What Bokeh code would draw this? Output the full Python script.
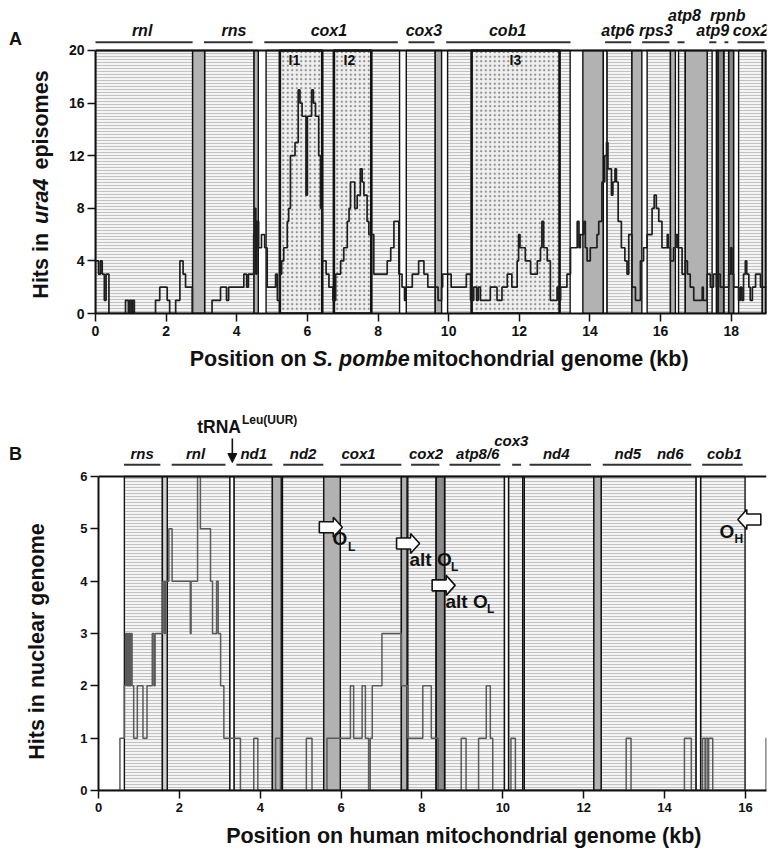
import math
from bokeh.plotting import figure
from bokeh.models import Range1d, Label, FixedTicker, Arrow, NormalHead
from bokeh.layouts import column, row
from bokeh.embed import file_html
from bokeh.resources import INLINE
from bokeh.core.properties import value

FONT = "Liberation Sans"

# ---------------- Panel A data (S. pombe) ----------------
A_hit_kb = [0.00, 0.085, 0.14, 0.19, 0.25, 0.30, 0.38, 0.85, 0.93, 0.97, 1.02, 1.05, 1.10, 1.70, 1.82,
            2.03, 2.10, 2.27, 2.39, 2.48, 2.55, 2.74, 3.30, 3.54, 3.71, 3.77, 4.20, 4.28, 4.33, 4.48,
            4.52, 4.54, 4.57, 4.62, 4.70, 4.79, 4.86, 5.10, 5.15, 5.22, 5.27, 5.33, 5.43, 5.47, 5.52,
            5.65, 5.74, 5.79, 5.85, 5.96, 6.00, 6.04, 6.12, 6.17, 6.23, 6.32, 6.37, 6.42, 6.53, 6.61,
            6.72, 6.80, 6.94, 7.03, 7.13, 7.18, 7.22, 7.34, 7.41, 7.50, 7.55, 7.60, 7.69, 7.74, 7.88,
            8.26, 8.36, 8.45, 8.59, 8.68, 8.75, 8.78, 8.97, 9.15, 9.30, 9.41, 9.70, 9.80, 9.83, 10.07,
            10.50, 10.62, 10.71, 10.79, 10.84, 10.90, 11.18, 11.37, 11.51, 11.66, 11.79, 11.94, 11.98,
            12.02, 12.17, 12.32, 12.51, 12.60, 12.64, 12.69, 12.79, 12.88, 13.07, 13.11, 13.17, 13.35,
            13.45, 13.64, 13.69, 13.73, 13.82, 13.87, 13.92, 14.01, 14.20, 14.25, 14.34, 14.42, 14.47,
            14.51, 14.61, 14.65, 14.71, 14.75, 14.80, 14.89, 14.99, 15.05, 15.10, 15.19, 15.29, 15.43,
            15.52, 15.62, 15.76, 15.82, 15.88, 15.95, 16.04, 16.19, 16.22, 16.28, 16.37, 16.43, 16.48,
            16.61, 16.70, 16.76, 16.84, 16.94, 17.18, 17.21, 17.32, 17.41, 17.50, 17.58, 17.63, 17.69,
            17.93, 17.98, 18.02, 18.07, 18.21, 18.26, 18.30, 18.35, 18.40, 18.44, 18.50, 18.54, 18.60,
            18.69, 18.83, 19.00]
A_hit_n = [4, 3, 4, 3, 1, 3, 0, 1, 0, 1, 0, 1, 0, 1, 2,
           1, 0, 1, 4, 3, 2, 0, 1, 2, 1, 2, 3, 2, 3, 6,
           8, 3, 7, 5, 6, 5, 2, 3, 1, 3, 4, 5, 7, 8, 12,
           13, 17, 16, 15, 9, 15, 15, 17, 16, 15, 12, 8, 4, 3, 2,
           1, 3, 4, 5, 7, 8, 10, 8, 9, 11, 10, 9, 7, 6, 3,
           4, 5, 7, 3, 2, 1, 2, 3, 4, 3, 2, 1, 2, 3, 2,
           3, 1, 2, 1, 2, 1, 2, 1, 2, 3, 2, 4, 6,
           5, 4, 3, 4, 5, 7, 5, 4, 1, 2, 1, 2, 3,
           5, 7, 5, 6, 7, 5, 4, 5, 6, 7, 10, 12, 13,
           11, 9, 10, 11, 10, 7, 5, 4, 3, 6, 2, 1, 4,
           5, 6, 8, 9, 8, 7, 5, 6, 5, 4, 5, 6, 5,
           3, 4, 3, 2, 1, 2, 1, 3, 2, 3, 2, 3, 2,
           3, 5, 3, 2, 1, 2, 1, 3, 4, 3, 2, 1, 2,
           3, 2, 2]

A_reg_start = [0.00, 2.75, 3.09, 4.49, 4.83, 5.22, 6.42, 6.75, 7.81, 8.80, 9.62, 9.97, 10.65, 13.14,
               13.80, 14.38, 14.48, 15.19, 15.62, 16.28, 16.51, 16.70, 17.32, 17.58, 17.63, 17.79,
               17.93, 18.21, 18.88]
A_reg_end = [2.75, 3.09, 4.49, 4.61, 5.22, 6.42, 6.75, 7.81, 8.61, 9.62, 9.80, 10.65, 13.14, 13.44,
             14.38, 14.48, 15.19, 15.47, 16.28, 16.42, 16.70, 17.32, 17.46, 17.63, 17.79, 17.93,
             18.07, 18.88, 19.00]
A_reg_kind = ["s", "g", "s", "g", "s", "i", "s", "i", "s", "s", "g", "s", "i", "s",
              "g", "w", "s", "g", "s", "g", "s", "g", "s", "s", "d", "s",
              "d", "s", "g"]

A_gene_name = ["rnl", "rns", "cox1", "cox3", "cob1", "atp6", "rps3", "atp8", "atp9", "rpnb", "cox2"]
A_gene_start = [-0.05, 3.07, 4.78, 8.86, 9.93, 14.43, 15.48, 16.48, 17.38, 17.81, 18.18]
A_gene_end = [2.75, 4.45, 8.56, 9.60, 13.45, 15.17, 16.25, 16.68, 17.58, 17.92, 18.94]
A_gene_label_kb = [1.32, 3.92, 6.61, 9.30, 11.67, 14.79, 15.87, 16.68, 17.48, 17.90, 18.56]
A_gene_row = [0, 0, 0, 0, 0, 0, 0, 1, 0, 1, 0]
A_intron_name = ["I1", "I2", "I3"]
A_intron_kb = [5.63, 7.19, 11.89]
A_xticks = [0, 2, 4, 6, 8, 10, 12, 14, 16, 18]
A_yticks = [0, 4, 8, 12, 16, 20]

# ---------------- Panel B data (human) ----------------
B_hit_kb = [0.00, 0.53, 0.64, 0.67, 0.70, 0.72, 0.74, 0.76, 0.78, 0.80, 0.83, 0.87, 0.96, 1.10, 1.20,
            1.33, 1.37, 1.40, 1.59, 1.63, 1.66, 1.74, 1.82, 2.27, 2.29, 2.45, 2.52, 2.77, 2.82, 2.92,
            2.96, 3.02, 3.10, 3.51, 3.84, 3.94, 4.38, 4.50, 5.14, 5.28, 5.65, 6.23, 6.31, 6.52, 6.60,
            6.68, 6.72, 6.77, 7.01, 7.49, 7.65, 8.02, 8.23, 8.40, 8.97, 9.09, 9.40, 9.59, 9.69, 9.75,
            10.20, 10.31, 13.05, 13.17, 14.49, 14.66, 14.94, 15.00, 15.02, 15.07, 15.09, 15.19, 16.51,
            16.52]
B_hit_n = [0, 1, 2, 3, 2, 3, 2, 3, 2, 3, 2, 1, 2, 1, 2,
           3, 2, 3, 4, 3, 4, 5, 4, 3, 4, 6, 5, 4, 3, 4,
           3, 2, 1, 0, 1, 0, 1, 0, 1, 0, 1, 2, 1, 2, 1,
           0, 1, 2, 3, 2, 1, 2, 1, 0, 1, 0, 1, 2, 1, 0,
           1, 0, 1, 0, 1, 0, 1, 0, 1, 0, 1, 0, 1,
           1]

B_reg_start = [0.64, 1.58, 1.70, 3.25, 3.35, 4.30, 4.55, 5.57, 5.98, 7.49, 7.65, 8.35, 8.56, 10.04,
               10.14, 10.49, 10.53, 12.25, 12.43, 14.78, 14.89]
B_reg_end = [1.58, 1.70, 3.25, 3.35, 4.30, 4.52, 5.57, 5.98, 7.49, 7.63, 8.35, 8.56, 10.04, 10.14,
             10.49, 10.53, 12.25, 12.43, 14.78, 14.89, 15.99]
B_reg_kind = ["s", "l", "s", "w", "s", "g", "s", "g", "s", "g", "s", "d", "s", "w",
              "s", "w", "s", "g", "s", "w", "s"]

B_gene_start = [0.63, 1.81, 3.41, 4.57, 5.98, 7.73, 8.68, 10.23, 10.66, 12.47, 14.93]
B_gene_end = [1.53, 3.14, 4.30, 5.56, 7.49, 8.43, 9.94, 10.45, 12.18, 14.66, 15.93]
B_label_name = ["rns", "rnl", "nd1", "nd2", "cox1", "cox2", "atp8/6", "cox3", "nd4", "nd5", "nd6", "cob1"]
B_label_kb = [1.08, 2.40, 3.84, 5.06, 6.43, 8.10, 9.38, 10.21, 11.32, 13.09, 14.14, 15.48]
B_label_row = [0, 0, 0, 0, 0, 0, 0, 1, 0, 0, 0, 0]
B_trna_kb = 3.31
B_arrow_kb = [6.03, 7.94, 8.82, 15.81]
B_arrow_n = [5.03, 4.72, 3.92, 5.18]
B_arrow_dir = [1, 1, 1, -1]
B_xticks = [0, 2, 4, 6, 8, 10, 12, 14, 16]
B_yticks = [0, 1, 2, 3, 4, 5, 6]

# ---------------- geometry (page origin at 0,0) ----------------
LW = 60              # left strip for y titles
MW = 708             # main figure width
A_TOP, A_MH, A_BL, A_BR, A_BB, A_XH = 0, 345, 35, 2, 32, 35
B_TOP, B_MH, B_BL, B_BR, B_BB, B_XH = 380, 440, 38, 2, 30, 30
A_XMAX, A_YTOP, A_YMAX = 19.0, 20, 23.80
B_XMAX, B_YTOP, B_YMAX = 16.52, 6, 7.835

CW = {' ': 278, '(': 333, ')': 333, '.': 278, '/': 278, '4': 556, '1': 556, '6': 556, '8': 556,
      'A': 722, 'H': 722, 'L': 611, 'N': 722, 'O': 778, 'P': 667, 'R': 722, 'S': 667, 'U': 722,
      'a': 556, 'b': 611, 'c': 556, 'd': 611, 'e': 556, 'g': 611, 'h': 611, 'i': 278, 'k': 556,
      'l': 278, 'm': 889, 'n': 611, 'o': 611, 'p': 611, 'r': 389, 's': 556, 't': 333, 'u': 611}


def tw(s, size):
    return sum(CW.get(c, 556) for c in s) * size / 1000.0


def make_conv(top, height, bl, br, bb, xmax, ymax):
    left = LW + bl
    bottom = top + height - bb
    ppx = (MW - bl - br) / xmax
    ppy = (height - bb) / ymax
    return (lambda px: (px - left) / ppx), (lambda py: (bottom - py) / ppy), ppx, ppy


def lab(p, conv, px, py, text, size, style="bold", align="left"):
    p.add_layout(Label(x=conv[0](px), y=conv[1](py), text=text, text_font=FONT,
                       text_font_size="%.1fpx" % size, text_font_style=style,
                       text_align=align, text_baseline="middle", text_color="#111111"))


def blank(w, h):
    f = figure(width=w, height=h, x_range=Range1d(0, w), y_range=Range1d(h, 0),
               output_backend="svg", toolbar_location=None, x_axis_type=None, y_axis_type=None,
               min_border_left=0, min_border_right=0, min_border_top=0, min_border_bottom=0)
    f.grid.visible = False
    f.outline_line_color = None
    f.background_fill_color = "white"
    f.border_fill_color = "white"
    return f


def txt(f, x, y, s, size, style="bold", align="left", angle=0.0):
    f.text(x=[x], y=[y], text=[s], text_font=value(FONT), text_font_size="%.1fpx" % size,
           text_font_style=style, text_align=align, text_baseline="middle", angle=angle,
           text_color="#111111")


def part_w(t, s, size, before, after):
    if "italic" in s:
        return tw(t, size) + (before + after) * size, before * size
    return tw(t, size), 0.0


def rich_h(f, cx, cy, parts, size):
    L = sum(part_w(t, s, size, 0.32, 0.12)[0] for t, s in parts)
    x = cx - L / 2
    for t, s in parts:
        w, pad = part_w(t, s, size, 0.32, 0.12)
        lead = len(t) - len(t.lstrip())
        txt(f, x + pad + tw(t[:lead], size), cy, t.strip(), size, s)
        x += w


def rich_v(f, cx, cy, parts, size):
    L = sum(part_w(t, s, size, 0.14, 0.14)[0] for t, s in parts)
    y = cy + L / 2
    for t, s in parts:
        w, pad = part_w(t, s, size, 0.14, 0.14)
        lead = len(t) - len(t.lstrip())
        txt(f, cx, y - pad - tw(t[:lead], size), t.strip(), size, s, angle=math.pi / 2)
        y -= w


def style_axes(p, size):
    for ax in (p.xaxis, p.yaxis):
        ax.axis_line_width = 2
        ax.axis_line_color = "#111111"
        ax.major_tick_line_width = 1.5
        ax.major_tick_line_color = "#111111"
        ax.major_tick_out = 8
        ax.major_tick_in = 0
        ax.minor_tick_line_color = None
        ax.major_label_text_font = FONT
        ax.major_label_text_font_style = "bold"
        ax.major_label_text_font_size = "%dpx" % size
        ax.major_label_text_color = "#111111"
    p.xaxis.major_label_standoff = 4
    p.yaxis.major_label_standoff = 3
    p.grid.visible = False
    p.outline_line_color = None
    p.background_fill_color = "white"
    p.border_fill_color = "white"


STYLES = {
    "s": dict(fill_color="#f4f4f4", hatch_pattern="horizontal_line", hatch_color="#c2c2c2",
              hatch_scale=3, hatch_weight=1, line_width=1.4),
    "i": dict(fill_color="#efefef", hatch_pattern="dot", hatch_color="#8c8c8c",
              hatch_scale=4.5, hatch_weight=2.6, line_width=2.6),
    "g": dict(fill_color="#b2b2b2", line_width=1.4),
    "l": dict(fill_color="#d0d0d0", line_width=1.4),
    "d": dict(fill_color="#8a8a8a", line_width=1.6),
    "w": dict(fill_color="white", line_width=1.4),
}


def draw_regions(p, starts, ends, kinds, ytop):
    for k, st in STYLES.items():
        idx = [i for i, kk in enumerate(kinds) if kk == k]
        if not idx:
            continue
        p.quad(left=[starts[i] for i in idx], right=[ends[i] for i in idx],
               bottom=[0] * len(idx), top=[ytop] * len(idx), line_color="#111111", **st)


def main_fig(h, bl, br, bb, xmax, ymax):
    return figure(width=MW, height=h, x_range=Range1d(0, xmax), y_range=Range1d(0, ymax),
                  output_backend="svg", toolbar_location=None, min_border_left=bl,
                  min_border_right=br, min_border_top=0, min_border_bottom=bb)


# ================= Panel A =================
pA = main_fig(A_MH, A_BL, A_BR, A_BB, A_XMAX, A_YMAX)
style_axes(pA, 14)
convA = make_conv(A_TOP, A_MH, A_BL, A_BR, A_BB, A_XMAX, A_YMAX)
ppyA = convA[3]
pA.xaxis.ticker = FixedTicker(ticks=A_xticks)
pA.yaxis.ticker = FixedTicker(ticks=A_yticks)
pA.yaxis.bounds = (0, A_YTOP)

draw_regions(pA, A_reg_start, A_reg_end, A_reg_kind, A_YTOP)
pA.step(x=A_hit_kb, y=A_hit_n, mode="after", line_color="#1e1e1e", line_width=1.7)
pA.segment(x0=[0], y0=[A_YTOP], x1=[A_XMAX], y1=[A_YTOP], line_color="#111111", line_width=2)
pA.segment(x0=[A_XMAX - 0.02], y0=[0], x1=[A_XMAX - 0.02], y1=[A_YTOP], line_color="#111111", line_width=2)

bar_yA = A_YTOP + 8.3 / ppyA
pA.segment(x0=A_gene_start, x1=A_gene_end, y0=[bar_yA] * len(A_gene_start),
           y1=[bar_yA] * len(A_gene_start), line_color="#333333", line_width=2)
rowA = [A_YTOP + (20 if r == 0 else 35) / ppyA for r in A_gene_row]
pA.text(x=A_gene_label_kb, y=rowA, text=A_gene_name, text_font=value(FONT), text_font_size="16px",
        text_font_style="bold italic", text_align="center", text_baseline="middle", text_color="#111111")
pA.text(x=A_intron_kb, y=[A_YTOP - 10 / ppyA] * 3, text=A_intron_name, text_font=value(FONT),
        text_font_size="14px", text_font_style="bold", text_align="center", text_baseline="middle",
        text_color="#111111")

LA = blank(LW, A_MH + A_XH)
txt(LA, 15, 38, "A", 18, align="center")
rich_v(LA, 40, 184, [("Hits in ", "bold"), ("ura4", "bold italic"), (" episomes", "bold")], 21.5)

XA = blank(MW, A_XH)
rich_h(XA, 415 - LW, 358 - A_MH, [("Position on ", "bold"), ("S. pombe", "bold italic"),
                                  (" mitochondrial genome (kb)", "bold")], 21.5)

# ================= Panel B =================
pB = main_fig(B_MH, B_BL, B_BR, B_BB, B_XMAX, B_YMAX)
style_axes(pB, 13)
convB = make_conv(B_TOP, B_MH, B_BL, B_BR, B_BB, B_XMAX, B_YMAX)
ppxB, ppyB = convB[2], convB[3]
pB.xaxis.ticker = FixedTicker(ticks=B_xticks)
pB.yaxis.ticker = FixedTicker(ticks=B_yticks)
pB.yaxis.bounds = (0, B_YTOP)

draw_regions(pB, B_reg_start, B_reg_end, B_reg_kind, B_YTOP)
pB.step(x=B_hit_kb, y=B_hit_n, mode="after", line_color="#5a5a5a", line_width=1.5)
pB.segment(x0=[0], y0=[B_YTOP], x1=[B_XMAX], y1=[B_YTOP], line_color="#111111", line_width=2)

bar_yB = B_YTOP + 11.7 / ppyB
pB.segment(x0=B_gene_start, x1=B_gene_end, y0=[bar_yB] * len(B_gene_start),
           y1=[bar_yB] * len(B_gene_start), line_color="#333333", line_width=2)
rowB = [B_YTOP + (23 if r == 0 else 36.5) / ppyB for r in B_label_row]
pB.text(x=B_label_kb, y=rowB, text=B_label_name, text_font=value(FONT), text_font_size="15px",
        text_font_style="bold italic", text_align="center", text_baseline="middle", text_color="#111111")

pB.add_layout(Arrow(end=NormalHead(size=9, fill_color="#111111", line_color="#111111"),
                    x_start=B_trna_kb, y_start=B_YTOP + 38 / ppyB, x_end=B_trna_kb,
                    y_end=B_YTOP + 14 / ppyB, line_color="#111111", line_width=1.6))

xs, ys = [], []
shape = [(0, 0), (-9, -10), (-9, -5.5), (-23, -5.5), (-23, 5.5), (-9, 5.5), (-9, 10)]
for kb, n, d in zip(B_arrow_kb, B_arrow_n, B_arrow_dir):
    xs.append([kb + d * ox / ppxB for ox, oy in shape])
    ys.append([n - oy / ppyB for ox, oy in shape])
pB.patches(xs=xs, ys=ys, fill_color="white", line_color="#111111", line_width=1.6)

lab(pB, convB, 196.7, 426, "tRNA", 17.5)
lab(pB, convB, 241.5, 419, "Leu(UUR)", 12)
lab(pB, convB, 332, 538, "O", 19)
lab(pB, convB, 347.5, 546, "L", 12)
lab(pB, convB, 409, 559, "alt O", 19)
lab(pB, convB, 450.5, 566, "L", 12)
lab(pB, convB, 445, 601, "alt O", 19)
lab(pB, convB, 486.5, 608, "L", 12)
lab(pB, convB, 719, 531, "O", 19)
lab(pB, convB, 734, 538, "H", 12)

LB = blank(LW, B_MH + B_XH)
txt(LB, 15, 453 - B_TOP, "B", 18, align="center")
rich_v(LB, 36, 641 - B_TOP, [("Hits in nuclear genome", "bold")], 21.5)

XB = blank(MW, B_XH)
rich_h(XB, 433 - LW, 835 - B_TOP - B_MH, [("Position on human mitochondrial genome (kb)", "bold")], 21.5)

layout = column(row(LA, column(pA, XA)), row(LB, column(pB, XB)))
open("out.html", "w").write(file_html(layout, INLINE))
